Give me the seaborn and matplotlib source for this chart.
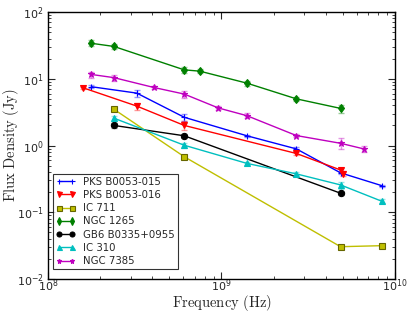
import numpy as np
import pandas as pd
import seaborn as sns
import matplotlib.pyplot as plt

# source name -> frequencies (Hz), flux (Jy), flux error (Jy)
names = ['PKS B0053-015', 'PKS B0053-016', 'IC 711', 'NGC 1265',
         'GB6 B0335+0955', 'IC 310', 'NGC 7385']

pks015_freq = [1.78e8, 3.25e8, 6.1e8, 1.4e9, 2.7e9, 4.85e9, 8.4e9]
pks015_flux = [7.6, 6.1, 2.65, 1.40, 0.89, 0.39, 0.25]
pks015_err = [0.4, 0.7, 0.3, 0.05, 0.05, 0.02, 0.01]

pks016_freq = [1.6e8, 3.25e8, 6.1e8, 2.7e9, 4.85e9, 5.0e9]
pks016_flux = [7.3, 3.9, 2.0, 0.76, 0.43, 0.38]
pks016_err = [0.3, 0.5, 0.3, 0.05, 0.03, 0.03]

ic711_freq = [2.4e8, 6.1e8, 4.85e9, 8.4e9]
ic711_flux = [3.5, 0.68, 0.0305, 0.0316]
ic711_err = [0.2, 0.05, 0.002, 0.002]

ngc1265_freq = [1.78e8, 2.4e8, 6.1e8, 7.5e8, 1.4e9, 2.7e9, 4.85e9]
ngc1265_flux = [34.0, 30.5, 13.6, 13.0, 8.6, 5.0, 3.6]
ngc1265_err = [3.5, 3.0, 1.4, 1.0, 0.8, 0.4, 0.5]

gb6_freq = [2.4e8, 6.1e8, 4.85e9]
gb6_flux = [2.0, 1.40, 0.193]
gb6_err = [0.15, 0.1, 0.01]

ic310_freq = [2.4e8, 6.1e8, 1.4e9, 2.7e9, 4.85e9, 8.4e9]
ic310_flux = [2.57, 1.01, 0.54, 0.376, 0.257, 0.146]
ic310_err = [0.2, 0.08, 0.03, 0.02, 0.03, 0.01]

ngc7385_freq = [1.78e8, 2.4e8, 4.08e8, 6.1e8, 9.6e8, 1.4e9, 2.7e9, 4.85e9, 6.6e9]
ngc7385_flux = [11.6, 10.4, 7.4, 5.9, 3.65, 2.8, 1.41, 1.08, 0.89]
ngc7385_err = [1.2, 1.0, 0.4, 0.7, 0.2, 0.25, 0.08, 0.2, 0.08]

freqs = [pks015_freq, pks016_freq, ic711_freq, ngc1265_freq, gb6_freq, ic310_freq, ngc7385_freq]
fluxes = [pks015_flux, pks016_flux, ic711_flux, ngc1265_flux, gb6_flux, ic310_flux, ngc7385_flux]
errs = [pks015_err, pks016_err, ic711_err, ngc1265_err, gb6_err, ic310_err, ngc7385_err]

colors = ['#0000ff', '#ff0000', '#bfbf00', '#008000', '#000000', '#00bfbf', '#bf00bf']
markers = ['+', 'v', 's', 'd', 'o', '^', '*']

rows = []
for n, f, s, e in zip(names, freqs, fluxes, errs):
    for fi, si, ei in zip(f, s, e):
        rows.append({'source': n, 'freq': fi, 'flux': si, 'err': ei})
df = pd.DataFrame(rows)

sns.set_style('ticks')
plt.rcParams['font.family'] = ['DejaVu Sans']
plt.rcParams['mathtext.fontset'] = 'cm'
plt.rcParams['xtick.direction'] = 'in'
plt.rcParams['ytick.direction'] = 'in'

fig = plt.figure(figsize=(4.09, 3.16), dpi=100)
ax = fig.add_axes([0.117, 0.117, 0.849, 0.845])

for n, c, m in zip(names, colors, markers):
    d = df[df.source == n]
    ec = '#666600' if n == 'IC 711' else c
    sns.lineplot(data=d, x='freq', y='flux', color=c, marker=m, label=n,
                 ax=ax, sort=True, estimator=None, markersize=4.5, linewidth=1,
                 markeredgecolor=ec, markeredgewidth=0.8, zorder=3)

for n, c in zip(names, colors):
    d = df[df.source == n]
    ax.errorbar(d.freq, d.flux, yerr=d.err, fmt='none', ecolor=c,
                alpha=0.4, elinewidth=1, capsize=2, zorder=2)

ax.set_xscale('log')
ax.set_yscale('log')
ax.set_xlim(1e8, 1e10)
ax.set_ylim(1e-2, 1e2)
ax.set_xlabel(r'$\mathrm{Frequency\ (Hz)}$', fontsize=10.5)
ax.set_ylabel(r'$\mathrm{Flux\ Density\ (Jy)}$', fontsize=10.5)
ax.xaxis.set_label_coords(0.5, -0.052)
ax.yaxis.set_label_coords(-0.078, 0.5)
ax.tick_params(which='both', top=True, right=True, labelsize=8)
ax.tick_params(axis='x', pad=-1)
ax.tick_params(axis='y', pad=3)
ax.tick_params(which='major', length=5)
ax.tick_params(which='minor', length=2.5)
for sp in ax.spines.values():
    sp.set_color('black')
    sp.set_linewidth(1)

handles, labels = ax.get_legend_handles_labels()
leg = ax.legend(handles[:7], labels[:7], loc='lower left', fontsize=7.3, numpoints=2,
                bbox_to_anchor=(0.014, 0.037), borderaxespad=0,
                frameon=True, fancybox=False, edgecolor='black', markerscale=0.8,
                handlelength=1.9, handletextpad=0.8, labelspacing=0.32,
                borderpad=0.3)
leg.get_frame().set_linewidth(0.8)

fig.savefig('out.png', dpi=100)
